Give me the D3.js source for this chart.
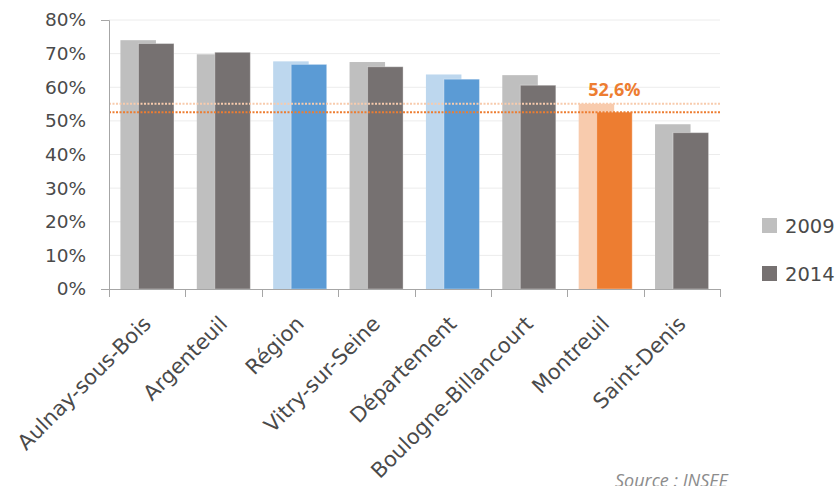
<!DOCTYPE html>
<html>
<head>
<meta charset="utf-8">
<script src="https://cdn.jsdelivr.net/npm/d3@7"></script>
<style>
  body { margin: 0; background: #fff; }
  svg text { font-family: "DejaVu Sans", sans-serif; }
</style>
</head>
<body>
<svg id="chart"></svg>
<script>
// data
var categories = ['Aulnay-sous-Bois', 'Argenteuil', 'Région', 'Vitry-sur-Seine',
                  'Département', 'Boulogne-Billancourt', 'Montreuil', 'Saint-Denis'];
var values2009 = [74.0, 69.8, 67.7, 67.5, 63.8, 63.6, 55.1, 49.0];
var values2014 = [73.0, 70.4, 66.8, 66.1, 62.4, 60.6, 52.6, 46.5];
var kinds = ['ville', 'ville', 'ref', 'ville', 'ref', 'ville', 'focus', 'ville'];
var yTicks = [0, 10, 20, 30, 40, 50, 60, 70, 80];
var years = ['2009', '2014'];

var colors = {
  ville: ['#bfbfbf', '#767171'],
  ref:   ['#bdd7ee', '#5b9bd5'],
  focus: ['#f8cbad', '#ed7d31']
};

var W = 837, H = 486;
var margin = {left: 109, right: 117, top: 20, bottom: 197};

var svg = d3.select('#chart')
    .attr('width', W)
    .attr('height', H);

var x = d3.scaleBand()
    .domain(categories)
    .range([margin.left, W - margin.right]);

var y = d3.scaleLinear()
    .domain([0, 80])
    .range([H - margin.bottom, margin.top]);

var bw = x.bandwidth();
var barW = bw * 0.465;
var step = bw * 0.236;

// grid
svg.append('g')
    .selectAll('line')
    .data(yTicks.slice(1))
    .enter()
    .append('line')
    .attr('x1', margin.left)
    .attr('x2', W - margin.right)
    .attr('y1', function(d) { return y(d); })
    .attr('y2', function(d) { return y(d); })
    .attr('stroke', '#ececec')
    .attr('stroke-width', 1);

var rows = categories.map(function(c, i) {
  return {cat: c, v09: values2009[i], v14: values2014[i], kind: kinds[i]};
});

var groups = svg.append('g')
    .selectAll('g')
    .data(rows)
    .enter()
    .append('g')
    .attr('transform', function(d) {
      return 'translate(' + (x(d.cat) + bw / 2 - (barW + step) / 2) + ',0)';
    });

groups.append('rect')
    .attr('x', 0)
    .attr('width', barW)
    .attr('y', function(d) { return y(d.v09); })
    .attr('height', function(d) { return y(0) - y(d.v09); })
    .attr('fill', function(d) { return colors[d.kind][0]; });

groups.append('rect')
    .attr('x', step)
    .attr('width', barW)
    .attr('y', function(d) { return y(d.v14); })
    .attr('height', function(d) { return y(0) - y(d.v14); })
    .attr('fill', function(d) { return colors[d.kind][1]; })
    .attr('stroke', 'rgba(255,255,255,0.35)')
    .attr('stroke-width', 1);

// dotted reference lines at Montreuil's values
var iM = categories.indexOf('Montreuil');
[[values2009[iM], colors.focus[0]], [values2014[iM], colors.focus[1]]].forEach(function(r) {
  svg.append('line')
      .attr('x1', margin.left)
      .attr('x2', W - margin.right)
      .attr('y1', y(r[0]))
      .attr('y2', y(r[0]))
      .attr('stroke', r[1])
      .attr('stroke-width', 2)
      .attr('stroke-dasharray', '2,1.5');
});

svg.append('text')
    .attr('x', x('Montreuil') + bw / 2 - (barW + step) / 2 + step + barW / 2)
    .attr('y', y(values2014[iM]) - 16)
    .attr('text-anchor', 'middle')
    .attr('fill', '#ed7d31')
    .attr('font-weight', 'bold')
    .attr('font-size', '18px')
    .style('font-family', '"Open Sans", sans-serif')
    .text(String(values2014[iM]).replace('.', ',') + '%');

// y axis
var yAxis = svg.append('g')
    .attr('transform', 'translate(' + margin.left + ',0)')
    .call(d3.axisLeft(y).tickValues(yTicks).tickSizeInner(0).tickSizeOuter(8).tickPadding(23)
      .tickFormat(function(d) { return d + '%'; }));
yAxis.select('.domain').attr('stroke', '#a6a6a6');
yAxis.selectAll('text')
    .attr('font-size', '18.5px')
    .attr('fill', '#4a4a4a')
    .style('font-family', '"DejaVu Sans", sans-serif');

// x axis
svg.append('line')
    .attr('x1', margin.left)
    .attr('x2', W - margin.right)
    .attr('y1', y(0) + 0.5)
    .attr('y2', y(0) + 0.5)
    .attr('stroke', '#a6a6a6');

var bounds = categories.map(function(c) { return x(c); }).concat([x.range()[1]]);
svg.append('g')
    .selectAll('line')
    .data(bounds)
    .enter()
    .append('line')
    .attr('x1', function(d) { return Math.round(d) + 0.5; })
    .attr('x2', function(d) { return Math.round(d) + 0.5; })
    .attr('y1', y(0))
    .attr('y2', y(0) + 8)
    .attr('stroke', '#a6a6a6');

svg.append('g')
    .selectAll('text')
    .data(categories)
    .enter()
    .append('text')
    .attr('transform', function(d) {
      return 'translate(' + (x(d) + bw / 2 - 6) + ',' + (y(0) + 25) + ') rotate(-45)';
    })
    .attr('dy', '0.75em')
    .attr('text-anchor', 'end')
    .attr('font-size', '21px')
    .attr('fill', '#4a4a4a')
    .text(function(d) { return d; });

// legend
var legend = svg.append('g')
    .selectAll('g')
    .data(years)
    .enter()
    .append('g')
    .attr('transform', function(d, i) { return 'translate(762,' + (218 + i * 48) + ')'; });

legend.append('rect')
    .attr('width', 15)
    .attr('height', 15)
    .attr('fill', function(d, i) { return colors.ville[i]; });

legend.append('text')
    .attr('x', 23)
    .attr('y', 15)
    .attr('font-size', '19.5px')
    .attr('fill', '#4a4a4a')
    .text(function(d) { return d; });

svg.append('text')
    .attr('x', 615)
    .attr('y', 487)
    .attr('font-size', '18px')
    .attr('font-style', 'italic')
    .attr('fill', '#8c8c8c')
    .style('font-family', '"Open Sans", sans-serif')
    .text('Source : INSEE');
</script>
</body>
</html>
